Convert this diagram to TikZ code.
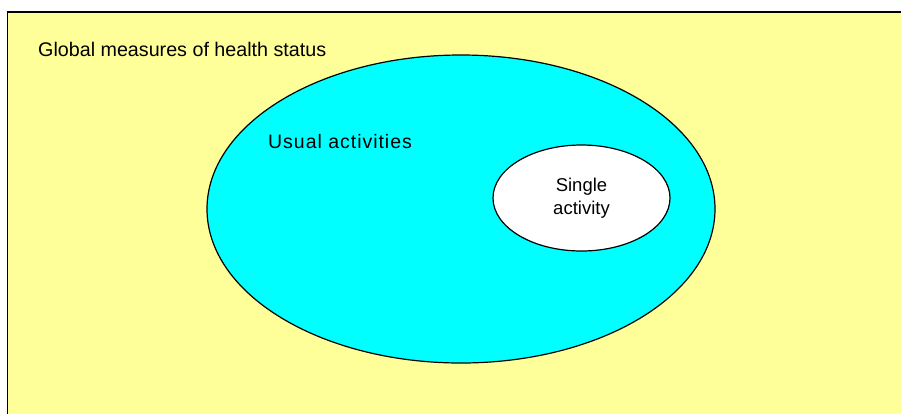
\documentclass[tikz,border=0pt]{standalone}
\usepackage{fontspec}
\setmainfont{Liberation Sans}
\usetikzlibrary{shapes.geometric}
\definecolor{bgyellow}{HTML}{FFFF99}
\definecolor{cyanfill}{HTML}{00FFFF}
\begin{document}
\begin{tikzpicture}[x=1pt,y=-1pt,
  lbl/.style={font=\fontsize{19.7}{22}\selectfont, inner sep=0pt},
  ell/.style={draw=black, line width=1.2pt}]
\useasboundingbox (0,0) rectangle (901,413);
\fill[white] (0,0) rectangle (901,413);
\draw[fill=bgyellow, line width=1.5pt] (7.5,12) rectangle (910,420);
\node[lbl, anchor=west] (global) at (38,49) {Global measures of health status};
\node[ell, fill=cyanfill, ellipse, minimum width=508, minimum height=308, inner sep=0pt] (usualell) at (461,209) {};
\node (usual) [lbl, anchor=west, font=\addfontfeatures{LetterSpace=5}\fontsize{19.5}{22}\selectfont] at (268,142) {Usual activities};
\node[ell, fill=white, ellipse, minimum width=177, minimum height=106, inner sep=0pt, align=center, font=\fontsize{18.5}{23.5}\selectfont] (single) at (581.5,198) {Single\\activity};
\end{tikzpicture}
\end{document}
